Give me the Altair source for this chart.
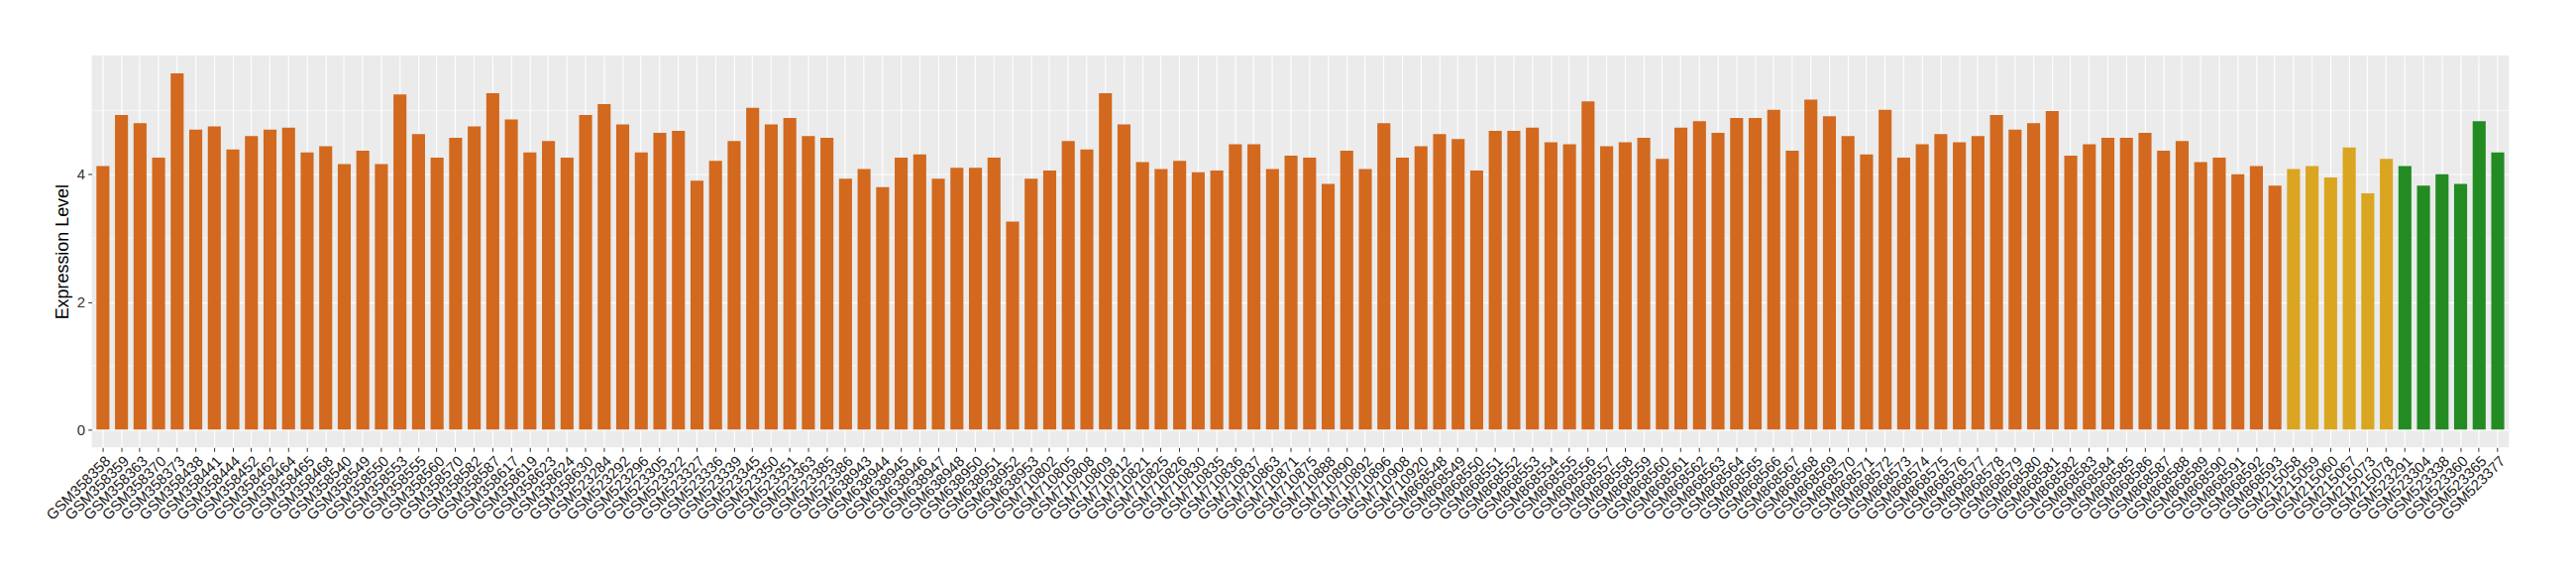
import altair as alt
import pandas as pd

# ---- data ----
orange_samples = [
    "GSM358358", "GSM358359", "GSM358363", "GSM358370", "GSM358373", "GSM358438", "GSM358441",
    "GSM358444", "GSM358452", "GSM358462", "GSM358464", "GSM358465", "GSM358468", "GSM358540",
    "GSM358549", "GSM358550", "GSM358553", "GSM358555", "GSM358560", "GSM358570", "GSM358582",
    "GSM358587", "GSM358617", "GSM358619", "GSM358623", "GSM358624", "GSM358630",
    "GSM523284", "GSM523292", "GSM523296", "GSM523305", "GSM523322", "GSM523327", "GSM523336",
    "GSM523339", "GSM523345", "GSM523350", "GSM523351", "GSM523363", "GSM523385", "GSM523386",
    "GSM638943", "GSM638944", "GSM638945", "GSM638946", "GSM638947", "GSM638948", "GSM638950",
    "GSM638951", "GSM638952", "GSM638953",
    "GSM710802", "GSM710805", "GSM710808", "GSM710809", "GSM710812", "GSM710821", "GSM710825",
    "GSM710826", "GSM710830", "GSM710835", "GSM710836", "GSM710837", "GSM710863", "GSM710871",
    "GSM710875", "GSM710888", "GSM710890", "GSM710892", "GSM710896", "GSM710908", "GSM710920",
    "GSM868548", "GSM868549", "GSM868550", "GSM868551", "GSM868552", "GSM868553", "GSM868554",
    "GSM868555", "GSM868556", "GSM868557", "GSM868558", "GSM868559", "GSM868560", "GSM868561",
    "GSM868562", "GSM868563", "GSM868564", "GSM868565", "GSM868566", "GSM868567", "GSM868568",
    "GSM868569", "GSM868570", "GSM868571", "GSM868572", "GSM868573", "GSM868574", "GSM868575",
    "GSM868576", "GSM868577", "GSM868578", "GSM868579", "GSM868580", "GSM868581", "GSM868582",
    "GSM868583", "GSM868584", "GSM868585", "GSM868586", "GSM868587", "GSM868588", "GSM868589",
    "GSM868590", "GSM868591", "GSM868592", "GSM868593",
]
orange_values = [
    4.13, 4.93, 4.80, 4.26, 5.58, 4.70, 4.75, 4.39, 4.60, 4.70, 4.73, 4.34, 4.44, 4.16,
    4.37, 4.16, 5.25, 4.63, 4.26, 4.57, 4.75, 5.27, 4.86, 4.34, 4.52, 4.26, 4.93,
    5.10, 4.78, 4.34, 4.65, 4.68, 3.90, 4.21, 4.52, 5.04, 4.78, 4.88, 4.60, 4.57, 3.93,
    4.08, 3.80, 4.26, 4.31, 3.93, 4.10, 4.10, 4.26, 3.26, 3.93,
    4.06, 4.52, 4.39, 5.27, 4.78, 4.19, 4.08, 4.21, 4.03, 4.06, 4.47, 4.47, 4.08, 4.29,
    4.26, 3.85, 4.37, 4.08, 4.80, 4.26, 4.44,
    4.63, 4.55, 4.06, 4.68, 4.68, 4.73, 4.50, 4.47, 5.14, 4.44, 4.50, 4.57, 4.24, 4.73,
    4.83, 4.65, 4.88, 4.88, 5.01, 4.37, 5.17, 4.91, 4.60, 4.31, 5.01, 4.26, 4.47, 4.63,
    4.50, 4.60, 4.93, 4.70, 4.80, 4.99, 4.29, 4.47, 4.57, 4.57, 4.65, 4.37, 4.52, 4.19,
    4.26, 4.00, 4.13, 3.82,
]
yellow_samples = ["GSM215058", "GSM215059", "GSM215060", "GSM215067", "GSM215073", "GSM215078"]
yellow_values = [4.08, 4.13, 3.95, 4.42, 3.70, 4.24]
green_samples = ["GSM523291", "GSM523304", "GSM523338", "GSM523360", "GSM523365", "GSM523377"]
green_values = [4.13, 3.82, 4.00, 3.85, 4.83, 4.34]

y_ticks = [0, 2, 4]
y_minor = [1, 3, 5]

group_names = ["orange", "yellow", "green"]
group_colors = ["#D2691E", "#DAA520", "#228B22"]

samples = orange_samples + yellow_samples + green_samples
df = pd.DataFrame({
    "sample": samples,
    "value": orange_values + yellow_values + green_values,
    "group": ["orange"] * len(orange_samples) + ["yellow"] * len(yellow_samples)
             + ["green"] * len(green_samples),
})
minor_df = pd.DataFrame({"y": y_minor})

y_scale = alt.Scale(domain=[-0.28, 5.86], nice=False, zero=False)

bars = alt.Chart(df).mark_bar().encode(
    x=alt.X("sample:N", sort=samples,
            scale=alt.Scale(paddingInner=0.3, paddingOuter=0.25),
            axis=alt.Axis(title=None, labelAngle=315, labelAlign="right", labelBaseline="top",
                          labelFontSize=15, labelColor="#1a1a1a", labelFont="Liberation Sans",
                          tickColor="#333333", tickSize=4, tickWidth=1, labelPadding=2,
                          domain=False, grid=True, gridColor="white", gridWidth=1.1,
                          bandPosition=0.5, labelOverlap=False, labelLimit=0)),
    y=alt.Y("value:Q", scale=y_scale,
            axis=alt.Axis(title="Expression Level", values=y_ticks, format="d", titleFontSize=18,
                          titleFont="Liberation Sans", titleFontWeight="normal", titleColor="black",
                          labelFontSize=15, labelColor="#333333", labelFont="Liberation Sans",
                          tickColor="#333333", tickSize=4, domain=False, grid=True,
                          gridColor="white", gridWidth=1.1, labelPadding=3, titlePadding=5)),
    y2=alt.datum(0),
    color=alt.Color("group:N", scale=alt.Scale(domain=group_names, range=group_colors), legend=None),
)

minor = alt.Chart(minor_df).mark_rule(color="white", strokeWidth=0.6).encode(
    y=alt.Y("y:Q", scale=y_scale),
)

chart = alt.layer(minor, bars).properties(
    width=2450, height=397,
    autosize=alt.AutoSizeParams(type="none"),
    padding={"left": 85, "top": 47, "right": 60, "bottom": 125},
).configure_view(fill="#EBEBEB", stroke=None)

chart.save("out.html", embed_options={"renderer": "svg", "actions": False})
